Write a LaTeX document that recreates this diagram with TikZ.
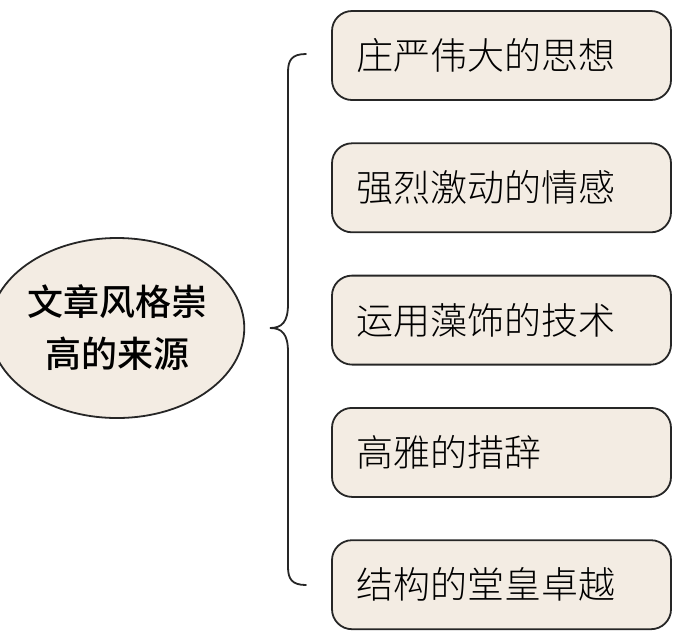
\documentclass[tikz,border=0pt]{standalone}
\usepackage{fontspec}
\usepackage{xcolor}
\usepackage{tikz}
\usetikzlibrary{positioning,shapes.geometric}
\setmainfont{Noto Sans CJK SC}
\newfontfamily\cjklight{Noto Sans CJK SC Light}
\newfontfamily\cjkmedium{Noto Sans CJK SC Medium}
\definecolor{srcbeige}{HTML}{F3ECE3}
\definecolor{srcline}{HTML}{262626}

\begin{document}
\begin{tikzpicture}[x=1pt,y=-1pt,
    srcbox/.style={draw=srcline,line width=1.8pt,fill=srcbeige,rounded corners=20pt,
      minimum width=339pt,minimum height=89pt,text width=290pt,align=left,
      font=\cjklight\fontsize{37}{42}\selectfont,inner sep=0pt},
    srcroot/.style={draw=srcline,line width=1.8pt,fill=srcbeige,ellipse,
      minimum width=224pt,minimum height=180pt,inner sep=0pt,align=center,
      font=\cjkmedium\fontsize{36}{52}\selectfont},
    node distance=41.5pt]
    \useasboundingbox (0,0) rectangle (679,641);
    % sources on the right
    \node[srcbox] (idea) at (501.5,55.5) {庄严伟大的思想};
    \node[srcbox,below=of idea] (emotion) {强烈激动的情感};
    \node[srcbox,below=of emotion] (figure) {运用藻饰的技术};
    \node[srcbox,below=of figure] (diction) {高雅的措辞};
    \node[srcbox,below=of diction] (structure) {结构的堂皇卓越};
    % the root
    \node[srcroot] (root) at (117,328) {文章风格崇\\高的来源};
    % brace
    \coordinate (btop) at (306,54);
    \coordinate (bbot) at (306,585);
    \coordinate (btip) at (270,328);
    \draw[srcline,line width=1.8pt,line cap=round]
      (btop) .. controls (292,54) and (288,60) .. (288,72)
      -- (288,304) .. controls (288,322) and (282,328) .. (btip)
      .. controls (282,328) and (288,334) .. (288,352)
      -- (288,567) .. controls (288,579) and (292,585) .. (bbot);
\end{tikzpicture}
\end{document}
